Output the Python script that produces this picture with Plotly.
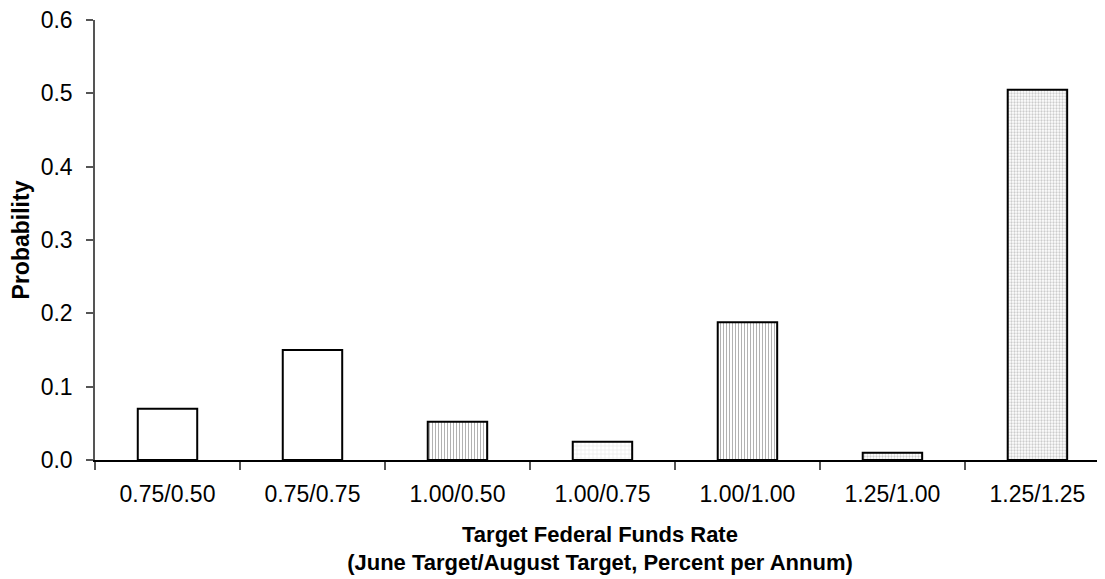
import plotly.graph_objects as go

categories = ["0.75/0.50", "0.75/0.75", "1.00/0.50", "1.00/0.75", "1.00/1.00", "1.25/1.00", "1.25/1.25"]
probability = [0.070, 0.150, 0.052, 0.025, 0.188, 0.010, 0.505]
y_ticks = [0.0, 0.1, 0.2, 0.3, 0.4, 0.5, 0.6]

pattern_shapes = ["", "", "|", "+", "|", ".", "."]
pattern_fg = ["#000000", "#000000", "#555555", "#aaaaaa", "#555555", "#9a9a9a", "#9a9a9a"]
pattern_size = [4, 4, 3, 4, 3, 3, 3]
pattern_solid = [0.3, 0.3, 0.3, 0.15, 0.3, 0.45, 0.45]

FONT = "Liberation Sans, Arial, sans-serif"

fig = go.Figure(
    go.Bar(
        x=categories,
        y=probability,
        width=0.41,
        marker=dict(
            color="white",
            line=dict(color="black", width=2),
            pattern=dict(
                shape=pattern_shapes,
                fgcolor=pattern_fg,
                bgcolor="white",
                size=pattern_size,
                solidity=pattern_solid,
                fillmode="overlay",
            ),
        ),
        showlegend=False,
    )
)

# page body adds an 8px margin, so the figure is sized to fill the rest of the window
fig.update_layout(
    width=1097,
    height=571,
    margin=dict(l=87, r=0, t=12, b=119),
    paper_bgcolor="white",
    plot_bgcolor="white",
    font=dict(family=FONT, size=23, color="black"),
    xaxis=dict(
        type="category",
        range=[-0.5, 6.466],
        showline=True,
        linecolor="black",
        linewidth=1.5,
        ticks="outside",
        tickson="boundaries",
        ticklen=8,
        tickcolor="#555555",
        tickwidth=1.5,
        ticklabelstandoff=13,
        ticklabeloverflow="allow",
        showgrid=False,
        tickfont=dict(size=23),
        title=dict(
            text="<b>Target Federal Funds Rate<br>(June Target/August Target, Percent per Annum)</b>",
            font=dict(size=22),
            standoff=20,
        ),
    ),
    yaxis=dict(
        range=[0, 0.6],
        tickvals=y_ticks,
        tickformat=".1f",
        showline=True,
        linecolor="#555555",
        linewidth=1.5,
        ticks="outside",
        ticklen=7,
        tickcolor="#555555",
        tickwidth=1.5,
        ticklabelstandoff=9,
        ticklabeloverflow="allow",
        showgrid=False,
        zeroline=False,
        tickfont=dict(size=23),
        title=dict(text="<b>Probability</b>", font=dict(size=23), standoff=12),
    ),
)

fig.write_html("out.html")
